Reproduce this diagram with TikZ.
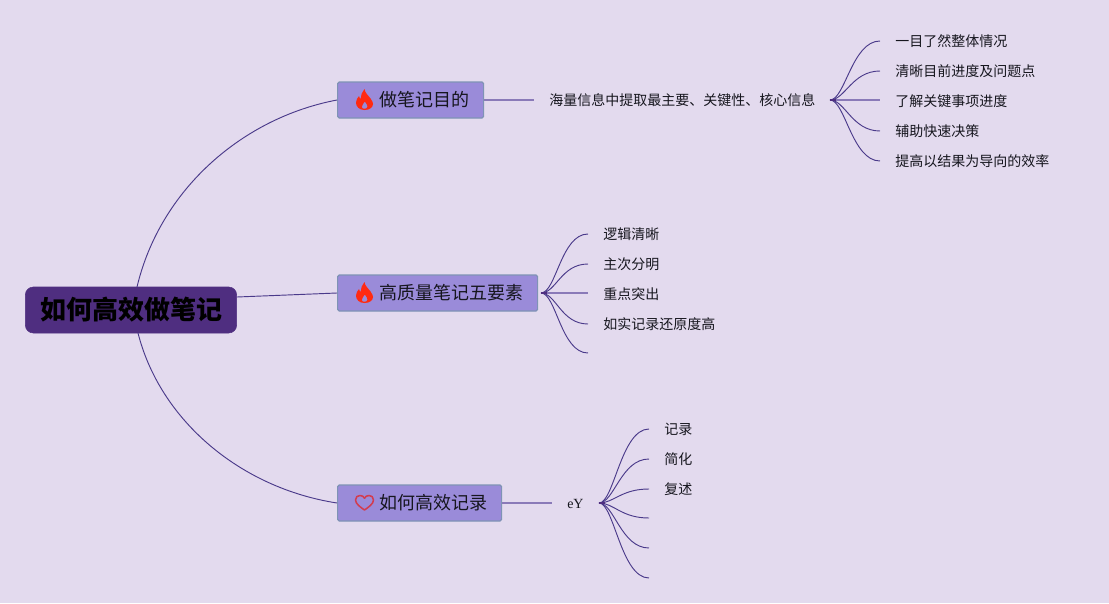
\documentclass[tikz,border=0pt]{standalone}
\usepackage{fontspec}
\setmainfont{Noto Sans CJK SC}
\newfontfamily\serifeY{Liberation Serif}
\definecolor{bgc}{HTML}{E3DAEE}
\definecolor{rootc}{HTML}{4F2E80}
\definecolor{branchc}{HTML}{9A8BD9}
\definecolor{branchb}{HTML}{7F93B5}
\definecolor{linkc}{HTML}{4A3A8A}
\definecolor{thickc}{HTML}{8A7AB8}
\definecolor{txtc}{HTML}{16161E}
\definecolor{flamec}{HTML}{FF2A12}
\definecolor{heartc}{HTML}{D23C50}
\tikzset{
  x=0.75pt,y=-0.75pt,
  rootbox/.style={draw=rootc,fill=rootc,rounded corners=6pt,minimum width=158.5pt,minimum height=34.5pt,inner sep=0pt,font=\fontsize{19.5pt}{22pt}\selectfont\bfseries,text=black},
  branchbox/.style={draw=branchb,line width=0.9pt,fill=branchc,rounded corners=1.2pt,minimum height=27pt,inner sep=0pt,anchor=west,font=\fontsize{13.5pt}{16pt}\selectfont,text=txtc},
  leaftext/.style={inner xsep=11.25pt,inner ysep=0pt,anchor=west,font=\fontsize{10.5pt}{13pt}\selectfont,text=txtc},
  midtext/.style={inner xsep=11.25pt,inner ysep=0pt,font=\fontsize{10.5pt}{13pt}\selectfont,text=txtc},
  mainlink/.style={draw=linkc,line width=0.7pt},
  thicklink/.style={draw=thickc,line width=1.1pt},
  fanlink/.style={draw=linkc,line width=0.7pt},
  stub/.style={draw=rootc,line width=1.5pt},
  pics/flame/.style={code={
    \fill[flamec,even odd rule] (8.5,21) .. controls (3,21) and (0,17.5) .. (0,13.5)
      .. controls (0,11) and (1.5,9) .. (3,7)
      .. controls (3.3,8.5) and (3.8,9.5) .. (4.8,10)
      .. controls (5,6) and (6,2.5) .. (8.5,0)
      .. controls (9,4) and (12,6) .. (14.5,9.5)
      .. controls (16.5,12) and (17,14) .. (17,15)
      .. controls (17,18.5) and (13.5,21) .. (8.5,21) -- cycle
      (8.8,12.5) .. controls (8,14.5) and (5.5,16) .. (5.8,18)
      .. controls (6,19.3) and (7.2,19.8) .. (8.5,19.8)
      .. controls (10.2,19.8) and (11.5,19) .. (11.5,17.4)
      .. controls (11.5,15.5) and (9.8,14.3) .. (8.8,12.5) -- cycle;
  }},
  pics/heart/.style={code={
    \draw[heartc,line width=1.15pt,line join=round] (9.5,15) .. controls (6,12.5) and (0.5,9) .. (0.5,5)
      .. controls (0.5,2) and (2.5,0.5) .. (5,0.5)
      .. controls (7,0.5) and (8.7,1.5) .. (9.5,3.2)
      .. controls (10.3,1.5) and (12,0.5) .. (14,0.5)
      .. controls (16.5,0.5) and (18.5,2) .. (18.5,5)
      .. controls (18.5,9) and (13,12.5) .. (9.5,15) -- cycle;
  }},
}
\begin{document}
\begin{tikzpicture}
\useasboundingbox (0,0) rectangle (1109,603);
\fill[bgc] (0,0) rectangle (1109,603);
% main nodes
\node[rootbox] (root) at (131,310) {\raisebox{-0.8pt}{如何高效做笔记}};
\node[branchbox,minimum width=109.5pt] (b1) at (337,100) {\hspace{21pt}\raisebox{-1.3pt}{做笔记目的}};
\node[branchbox,minimum width=150pt] (b2) at (337,293) {\hspace{21pt}\raisebox{-1.3pt}{高质量笔记五要素}};
\node[branchbox,minimum width=123pt] (b3) at (337,503) {\hspace{21pt}\raisebox{-1.3pt}{如何高效记录}};
\path (356,89) pic {flame};
\path (356,282) pic {flame};
\path (355,495) pic {heart};
% second level
\node[midtext,anchor=west] (m1) at (534,100.5) {海量信息中提取最主要、关键性、核心信息};
\node[midtext,anchor=west,font=\fontsize{10.5pt}{13pt}\serifeY] (m3) at (552,504) {eY};
% leaves of m1
\node[leaftext] (a1) at (880,41) {一目了然整体情况};
\node[leaftext] (a2) at (880,71) {清晰目前进度及问题点};
\node[leaftext] (a3) at (880,101) {了解关键事项进度};
\node[leaftext] (a4) at (880,131) {辅助快速决策};
\node[leaftext] (a5) at (880,161) {提高以结果为导向的效率};
% leaves of b2
\node[leaftext] (c1) at (588,234) {逻辑清晰};
\node[leaftext] (c2) at (588,264) {主次分明};
\node[leaftext] (c3) at (588,294) {重点突出};
\node[leaftext] (c4) at (588,324) {如实记录还原度高};
\coordinate (c5) at (588,353);
% leaves of m3
\node[leaftext] (d1) at (649,429) {记录};
\node[leaftext] (d2) at (649,459) {简化};
\node[leaftext] (d3) at (649,489) {复述};
\coordinate (d4) at (649,518);
\coordinate (d5) at (649,548);
\coordinate (d6) at (649,578);
\coordinate (s1) at (830,100);
\coordinate (s2) at (541,293);
\coordinate (s3) at (599,503);
% root links
\draw[mainlink] (137,287) .. controls (160,190) and (242,118) .. (b1.west);
\draw[mainlink] (root.east |- 0,297) -- (b2.west);
\draw[mainlink] (138,333) .. controls (160,420) and (240,488) .. (b3.west);
\draw[thicklink] (b1.east) -- (m1.west |- b1.east);
\draw[thicklink] (b3.east) -- (m3.west |- b3.east);
% fans
\foreach \e in {a1,a2,a4,a5}
  \draw[fanlink] (s1) .. controls +(15,0) and +(-28,0) .. (\e.west);
\draw[thicklink] (s1) -- (a3.west |- s1);
\foreach \e in {c1,c2,c4}
  \draw[fanlink] (s2) .. controls +(15,0) and +(-27,0) .. (\e.west);
\draw[fanlink] (s2) .. controls +(15,0) and +(-27,0) .. (c5);
\draw[thicklink] (s2) -- (c3.west |- s2);
\foreach \e in {d1,d2,d3}
  \draw[fanlink] (s3) .. controls +(15,0) and +(-28,0) .. (\e.west);
\foreach \e in {d4,d5,d6}
  \draw[fanlink] (s3) .. controls +(15,0) and +(-28,0) .. (\e);
\draw[stub] (s1) -- +(6,0);
\draw[stub] (s2) -- +(6,0);
\draw[stub] (s3) -- +(6,0);
\end{tikzpicture}
\end{document}
